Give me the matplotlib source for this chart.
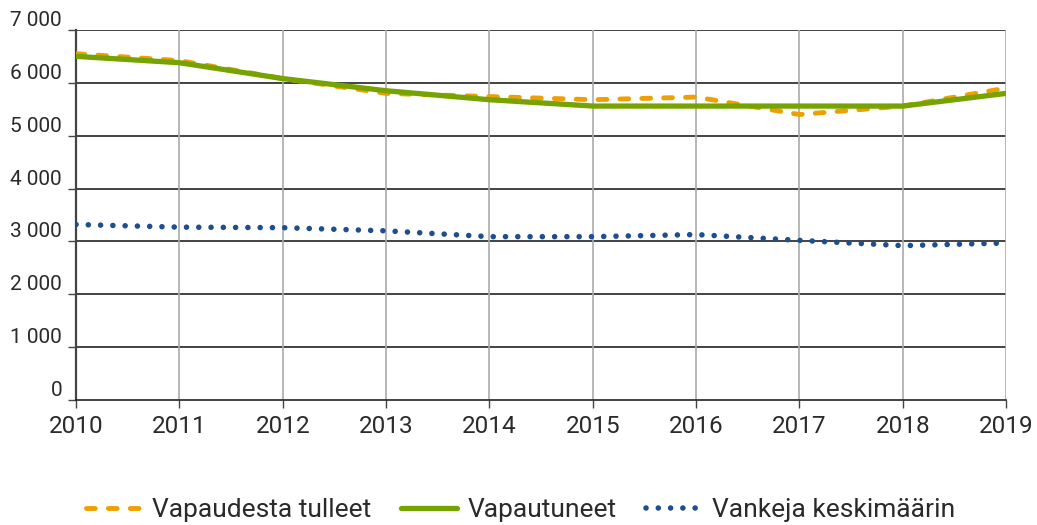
import matplotlib
matplotlib.use('Agg')
import matplotlib.pyplot as plt

years = [2010, 2011, 2012, 2013, 2014, 2015, 2016, 2017, 2018, 2019]
tulleet = [6550, 6420, 6080, 5800, 5740, 5680, 5730, 5400, 5560, 5900]
vapautuneet = [6500, 6380, 6080, 5850, 5680, 5560, 5560, 5560, 5560, 5800]
vankeja = [3320, 3270, 3260, 3200, 3090, 3090, 3130, 3020, 2920, 2970]
y_ticks = [0, 1000, 2000, 3000, 4000, 5000, 6000, 7000]
y_labels = ['0', '1 000', '2 000', '3 000', '4 000', '5 000', '6 000', '7 000']

plt.rcParams['font.family'] = ['Roboto', 'DejaVu Sans']
text_col = '#2a2a2a'

fig = plt.figure(figsize=(10.37, 5.25), dpi=100)
ax = fig.add_axes([0.0733, 0.238, 0.897, 0.705])

ax.plot(years, tulleet, color='#EDA000', lw=3.5, linestyle=(0, (1.8, 2.7)),
        dash_capstyle='round', label='Vapaudesta tulleet', zorder=3)
ax.plot(years, vapautuneet, color='#76A300', lw=3.8, solid_capstyle='round',
        label='Vapautuneet', zorder=4)
ax.plot(years, vankeja, color='#1D4E8F', lw=4.0, linestyle=(0, (0.01, 2.2)),
        dash_capstyle='round', label='Vankeja keskimäärin', zorder=3)

ax.set_xlim(2010, 2019)
ax.set_ylim(0, 7000)
ax.set_xticks(years)
ax.set_yticks(y_ticks)
ax.set_yticklabels(y_labels)

for y in y_ticks[1:]:
    ax.axhline(y, color='#222222', lw=1.2, zorder=1)
for x in years[1:]:
    ax.axvline(x, color='#aaaaaa', lw=1.2, zorder=1)

for s in ['top', 'right']:
    ax.spines[s].set_visible(False)
ax.spines['left'].set_color('#444444')
ax.spines['left'].set_linewidth(1.6)
ax.spines['bottom'].set_color('#222222')
ax.spines['bottom'].set_linewidth(1.2)

ax.tick_params(axis='x', length=6, width=1, color='#444444', labelsize=17.5,
               labelcolor=text_col, pad=5)
ax.tick_params(axis='y', length=6, width=1, color='#444444', labelsize=15,
               labelcolor=text_col, pad=4)
for lab in ax.get_yticklabels():
    lab.set_verticalalignment('bottom')

ax.legend(loc='center', bbox_to_anchor=(0.478, -0.298), ncol=3, frameon=False,
          fontsize=19, handlelength=2.15, handletextpad=0.38, columnspacing=1.1,
          labelcolor=text_col)

fig.savefig('out.png', dpi=100)
